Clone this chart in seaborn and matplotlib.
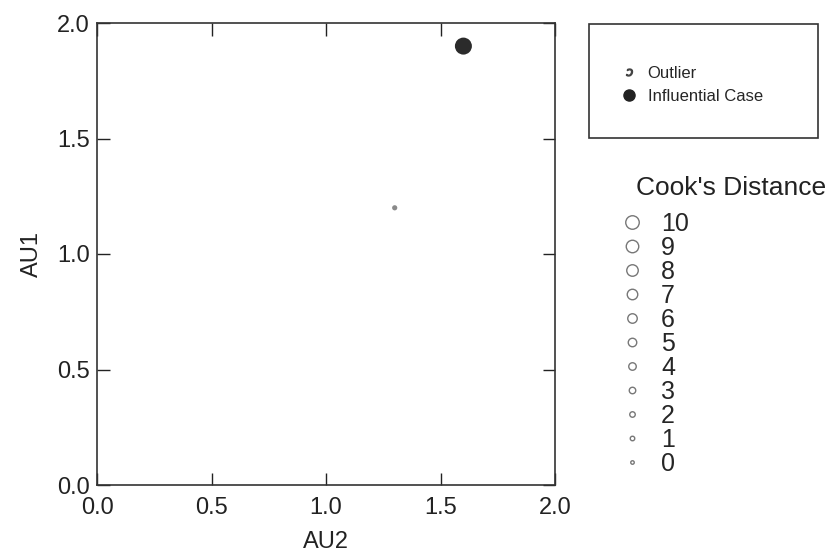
import matplotlib
matplotlib.use('Agg')
import matplotlib.pyplot as plt
import seaborn as sns
import pandas as pd
from matplotlib.lines import Line2D
from matplotlib.patches import Rectangle

# data
au2 = [1.3, 1.6]
au1 = [1.2, 1.9]
case_type = ['Point', 'Influential Case']
cooks_levels = [10, 9, 8, 7, 6, 5, 4, 3, 2, 1, 0]
ticks = [0.0, 0.5, 1.0, 1.5, 2.0]

df = pd.DataFrame({'AU2': au2, 'AU1': au1, 'type': case_type})

sns.set_theme(style="white")
plt.rcParams['font.family'] = ['Liberation Sans', 'DejaVu Sans']

W, H = 833, 554
fig = plt.figure(figsize=(W / 100, H / 100), dpi=100)
ax = fig.add_axes([97 / W, 1 - 485 / H, (555 - 97) / W, (485 - 23) / H])

sns.scatterplot(data=df, x='AU2', y='AU1', hue='type', size='type',
                palette={'Point': '#8a8a8a', 'Influential Case': '#2b2b2b'},
                sizes={'Point': 14, 'Influential Case': 150},
                edgecolor='none', legend=False, ax=ax)

ax.set_xlim(0, 2)
ax.set_ylim(0, 2)
ax.set_xticks(ticks)
ax.set_yticks(ticks)
ax.set_xticklabels([f'{t:.1f}' for t in ticks], fontsize=17)
ax.set_yticklabels([f'{t:.1f}' for t in ticks], fontsize=17)
ax.tick_params(direction='in', length=9, width=1, top=True, right=True,
               bottom=True, left=True, colors='#222222', labelcolor='#222222')
ax.tick_params(axis='x', pad=9)
ax.tick_params(axis='y', pad=5)
ax.set_xlabel('AU2', fontsize=17, labelpad=8, color='#222222')
ax.set_ylabel('AU1', fontsize=17, labelpad=10, color='#222222')
for s in ax.spines.values():
    s.set_color('#333333')
    s.set_linewidth(1.2)

# marker-type legend box
fig.patches.append(Rectangle((589 / W, 1 - 138 / H), (818 - 589) / W, (138 - 24) / H,
                             transform=fig.transFigure, fill=False,
                             edgecolor='#333333', linewidth=1.2))
box = [
    Line2D([], [], marker='$\u2183$', linestyle='', color='#444444', markersize=5),
    Line2D([], [], marker='o', linestyle='', color='#222222', markersize=8),
]
fig.legend(box, ['Outlier', 'Influential Case'], loc='center left',
           bbox_to_anchor=(611 / W, 1 - 85 / H), frameon=False, fontsize=12,
           handletextpad=0.5, labelspacing=0.45, borderpad=0,
           handlelength=1.2)

# Cook's distance size legend
fig.text(636 / W, 1 - 188 / H, "Cook's Distance", fontsize=19, color='#222222',
         ha='left', va='center')
cook = [Line2D([], [], marker='o', linestyle='', markerfacecolor='none',
               markeredgecolor='#777777', markeredgewidth=1,
               markersize=(3.5 + 1.0 * c) * 0.72) for c in cooks_levels]
fig.legend(cook, [str(c) for c in cooks_levels], loc='upper left',
           bbox_to_anchor=(621 / W, 1 - 212 / H), frameon=False, fontsize=18,
           labelspacing=0.0, handletextpad=0.7, handlelength=0.9,
           borderpad=0, borderaxespad=0)

fig.savefig('out.png', dpi=100)
